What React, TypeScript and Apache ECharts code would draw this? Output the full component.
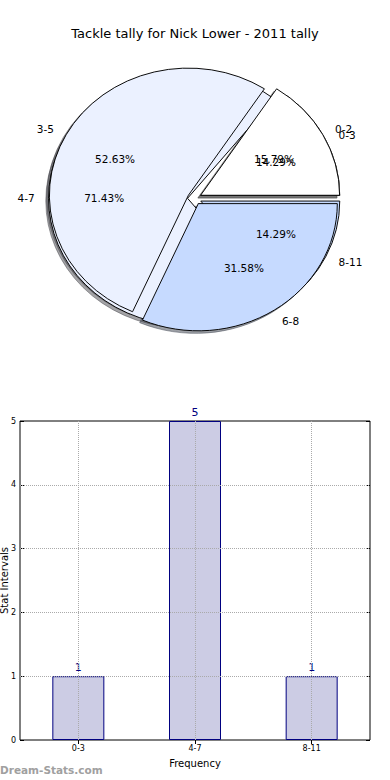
import React, { useEffect, useRef } from "react";
import * as echarts from "echarts";

const chartTitle = "Tackle tally for Nick Lower - 2011 tally";

// pie drawn on top
const pie1Labels = ["0-2", "3-5", "6-8"];
const pie1Values = [3, 10, 6];
// pie drawn underneath
const pie2Labels = ["0-3", "4-7", "8-11"];
const pie2Values = [1, 5, 1];
const pieColors = ["#ffffff", "#ebf1ff", "#c6daff"];

const barCategories = ["0-3", "4-7", "8-11"];
const barValues = [1, 5, 1];
const yTicks = [0, 1, 2, 3, 4, 5];

const FONT = '"DejaVu Sans", sans-serif';
const CX = 194.5;
const CY = 198.3;
const RX = 139;
const RY = 127.2;
const EXPLODE = 0.05;

type Pie = { labels: string[]; values: number[] };
const pies: Pie[] = [
  { labels: pie2Labels, values: pie2Values },
  { labels: pie1Labels, values: pie1Values },
];

function geom(p: Pie, i: number) {
  const total = p.values.reduce((a, b) => a + b, 0);
  let acc = 0;
  for (let k = 0; k < i; k++) acc += p.values[k];
  const t1 = (acc / total) * 2 * Math.PI;
  const t2 = ((acc + p.values[i]) / total) * 2 * Math.PI;
  const mid = (t1 + t2) / 2;
  const c = Math.cos(mid);
  const s = Math.sin(mid);
  const x0 = CX + EXPLODE * RX * c;
  const y0 = CY - EXPLODE * RY * s;
  const pct = ((p.values[i] / total) * 100).toFixed(2) + "%";
  return { t1, t2, c, s, x0, y0, pct };
}

function wedge(x: number, y: number, t1: number, t2: number, style: any) {
  return {
    type: "group",
    x,
    y,
    scaleY: RY / RX,
    children: [
      {
        type: "sector",
        shape: { cx: 0, cy: 0, r: RX, startAngle: -t2, endAngle: -t1, clockwise: true },
        style: { ...style, strokeNoScale: true },
      },
    ],
  };
}

function shade(hex: string) {
  const n = parseInt(hex.slice(1), 16);
  const r = Math.round(((n >> 16) & 255) * 0.3);
  const g = Math.round(((n >> 8) & 255) * 0.3);
  const b = Math.round((n & 255) * 0.3);
  return `rgba(${r},${g},${b},0.5)`;
}

export default function App() {
  const ref = useRef<HTMLDivElement>(null);
  useEffect(() => {
    document.body.style.margin = "0";
    if (!ref.current) return;
    const chart = echarts.init(ref.current, undefined, { renderer: "svg" });

    const shadowData: number[][] = [];
    const labelData: number[][] = [];
    pies.forEach((p, pi) =>
      p.values.forEach((v, i) => {
        shadowData.push([pi, i, v]);
        labelData.push([pi, i, v]);
      })
    );

    const wedgeSeries = (pi: number, z: number) => ({
      type: "custom",
      coordinateSystem: "none",
      z,
      silent: true,
      data: pies[pi].values.map((v, i) => [v, i]),
      renderItem: (params: any) => {
        const i = params.dataIndex;
        const g = geom(pies[pi], i);
        return wedge(g.x0, g.y0, g.t1, g.t2, {
          fill: pieColors[i % pieColors.length],
          stroke: "#000",
          lineWidth: 1,
        });
      },
    });

    const option: any = {
      animation: false,
      textStyle: { fontFamily: FONT },
      title: {
        text: chartTitle,
        left: "center",
        top: 22,
        textStyle: { fontSize: 13, fontWeight: "normal", color: "#000", fontFamily: FONT },
      },
      grid: {
        left: 20,
        right: 20,
        top: 421,
        bottom: 40,
        containLabel: false,
        outerBoundsMode: "none",
        show: true,
        borderColor: "#000",
        borderWidth: 1,
        backgroundColor: "transparent",
      },
      xAxis: [
        {
          type: "category",
          data: barCategories,
          boundaryGap: true,
          axisLine: { show: false },
          axisTick: { show: true, inside: true, alignWithLabel: true, length: 4, lineStyle: { color: "#000" } },
          axisLabel: { fontSize: 8, color: "#000", margin: 4, fontFamily: FONT },
          splitLine: { show: false },
          name: "Frequency",
          nameLocation: "middle",
          nameGap: 18,
          nameMoveOverlap: false,
          nameTextStyle: { fontSize: 10, color: "#000", fontFamily: FONT },
        },
        {
          type: "category",
          data: barCategories,
          position: "top",
          boundaryGap: true,
          axisLine: { show: false },
          axisTick: { show: true, inside: true, alignWithLabel: true, length: 4, lineStyle: { color: "#000" } },
          axisLabel: { show: false },
          splitLine: { show: false },
        },
      ],
      yAxis: [
        {
          type: "value",
          min: 0,
          max: 5,
          interval: 1,
          axisLine: { show: false },
          axisTick: { show: true, inside: true, length: 4, lineStyle: { color: "#000" } },
          axisLabel: { fontSize: 8, color: "#000", margin: 4, fontFamily: FONT },
          splitLine: { show: false },
          name: "Stat Intervals",
          nameLocation: "middle",
          nameGap: 11,
          nameMoveOverlap: false,
          nameTextStyle: { fontSize: 10, color: "#000", fontFamily: FONT },
        },
        {
          type: "value",
          position: "right",
          min: 0,
          max: 5,
          interval: 1,
          axisLine: { show: false },
          axisTick: { show: true, inside: true, length: 4, lineStyle: { color: "#000" } },
          axisLabel: { show: false },
          splitLine: { show: false },
        },
      ],
      graphic: [
        {
          type: "text",
          left: 0,
          top: 764,
          style: { text: "Dream-Stats.com", font: 'bold 10.5px "DejaVu Sans"', fill: "#a0a0a0" },
        },
      ],
      series: [
        {
          type: "bar",
          data: barValues,
          barWidth: 52,
          itemStyle: { color: "#ccccE4", borderColor: "#000080", borderWidth: 1 },
          label: { show: true, position: "top", color: "#000080", fontSize: 11, distance: 3, fontFamily: FONT },
          markLine: {
            silent: true,
            symbol: "none",
            label: { show: false },
            lineStyle: { type: "dotted", color: "#aaa", width: 1 },
            data: [
              ...barCategories.map((c) => ({ xAxis: c })),
              ...yTicks.filter((t) => t > 0 && t < 5).map((t) => ({ yAxis: t })),
            ],
          },
        },
        {
          type: "custom",
          coordinateSystem: "none",
          z: 1,
          silent: true,
          data: shadowData,
          renderItem: (params: any) => {
            const d = shadowData[params.dataIndex];
            const g = geom(pies[d[0]], d[1]);
            const col = shade(pieColors[d[1] % pieColors.length]);
            return wedge(g.x0 - 0.02 * RX, g.y0 + 0.02 * RY, g.t1, g.t2, {
              fill: col,
              stroke: col,
              lineWidth: 1,
            });
          },
        },
        wedgeSeries(0, 2),
        wedgeSeries(1, 3),
        {
          type: "custom",
          coordinateSystem: "none",
          z: 4,
          silent: true,
          data: labelData,
          renderItem: (params: any) => {
            const d = labelData[params.dataIndex];
            const p = pies[d[0]];
            const g = geom(p, d[1]);
            return {
              type: "group",
              children: [
                {
                  type: "text",
                  x: g.x0 + 1.1 * RX * g.c,
                  y: g.y0 - 1.1 * RY * g.s,
                  style: {
                    text: p.labels[d[1]],
                    fill: "#000",
                    font: '10.5px "DejaVu Sans"',
                    align: g.c > 0 ? "left" : "right",
                    verticalAlign: "middle",
                  },
                },
                {
                  type: "text",
                  x: g.x0 + 0.6 * RX * g.c,
                  y: g.y0 - 0.6 * RY * g.s,
                  style: {
                    text: g.pct,
                    fill: "#000",
                    font: '10.5px "DejaVu Sans"',
                    align: "center",
                    verticalAlign: "middle",
                  },
                },
              ],
            };
          },
        },
      ],
    };
    chart.setOption(option);
    return () => chart.dispose();
  }, []);
  return <div ref={ref} style={{ width: 390, height: 780 }} />;
}
